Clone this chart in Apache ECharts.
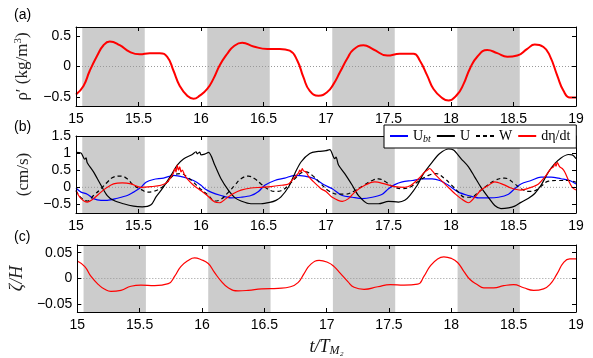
<!DOCTYPE html>
<html><head><meta charset="utf-8">
<script src="https://cdn.jsdelivr.net/npm/echarts@6/dist/echarts.min.js"></script>
<style>html,body{margin:0;padding:0;background:#fff}#c{width:593px;height:358px}</style>
</head><body><div id="c"></div>
<script>
// ---------- data ----------
var bands = [[15.05,15.55],[16.05,16.55],[17.05,17.55],[18.05,18.55]];
var xTicks = [15,15.5,16,16.5,17,17.5,18,18.5,19];
var yTicksA = [-0.5,0,0.5];
var yTicksB = [-0.5,0,0.5,1,1.5];
var yTicksC = [-0.05,0,0.05];

// (a) density anomaly
var rhoT = [15.0,15.06,15.11,15.17,15.22,15.27,15.35,15.43,15.51,15.59,15.67,15.73,15.78,15.83,15.89,15.94,15.99,16.05,16.10,16.15,16.21,16.26,16.33,16.42,16.53,16.63,16.71,16.77,16.82,16.87,16.94,17.01,17.06,17.11,17.17,17.22,17.30,17.38,17.49,17.59,17.70,17.75,17.81,17.86,17.93,17.98,18.05,18.10,18.15,18.21,18.29,18.37,18.45,18.53,18.61,18.67,18.74,18.79,18.85,18.90,18.95,19.0];
var rhoV = [-0.46,-0.32,-0.07,0.18,0.35,0.41,0.35,0.24,0.2,0.22,0.22,0.16,-0.07,-0.32,-0.48,-0.53,-0.48,-0.37,-0.2,0.02,0.21,0.33,0.39,0.33,0.29,0.29,0.26,0.1,-0.18,-0.4,-0.48,-0.42,-0.29,-0.1,0.13,0.28,0.35,0.28,0.18,0.21,0.21,0.1,-0.15,-0.37,-0.52,-0.56,-0.46,-0.29,-0.04,0.16,0.27,0.22,0.16,0.18,0.29,0.36,0.32,0.18,-0.15,-0.4,-0.51,-0.51];

// (b) velocities
var ubtT = [15.0,15.04,15.09,15.14,15.2,15.25,15.33,15.41,15.46,15.52,15.56,15.62,15.70,15.78,15.86,15.94,16.0,16.03,16.08,16.16,16.24,16.32,16.40,16.46,16.51,16.59,16.67,16.75,16.83,16.91,16.98,17.05,17.13,17.21,17.29,17.37,17.45,17.5,17.55,17.61,17.69,17.77,17.85,17.91,17.98,18.06,18.14,18.22,18.30,18.38,18.46,18.51,18.56,18.64,18.72,18.80,18.88,18.95,19.0];
var ubtV = [-0.02,-0.14,-0.2,-0.33,-0.38,-0.38,-0.32,-0.24,-0.14,0.0,0.15,0.23,0.27,0.35,0.3,0.2,0.06,-0.04,-0.14,-0.24,-0.31,-0.29,-0.24,-0.12,0.06,0.2,0.27,0.35,0.33,0.25,0.08,-0.04,-0.24,-0.29,-0.33,-0.29,-0.2,-0.04,0.08,0.16,0.2,0.25,0.25,0.2,0.06,-0.14,-0.24,-0.31,-0.31,-0.29,-0.2,-0.04,0.1,0.2,0.3,0.3,0.25,0.2,0.1];

var uT = [15.0,15.04,15.07,15.08,15.09,15.14,15.2,15.25,15.3,15.38,15.46,15.53,15.6,15.64,15.69,15.76,15.81,15.86,15.93,15.96,15.97,15.99,16.0,16.03,16.06,16.11,16.16,16.22,16.27,16.32,16.40,16.48,16.55,16.60,16.64,16.70,16.75,16.80,16.87,16.94,17.0,17.03,17.07,17.08,17.1,17.15,17.21,17.26,17.34,17.42,17.50,17.58,17.63,17.67,17.73,17.78,17.85,17.91,17.98,18.02,18.08,18.14,18.19,18.24,18.30,18.35,18.40,18.46,18.51,18.56,18.62,18.67,18.72,18.78,18.83,18.88,18.94,18.97,19.0];
var uV = [1.02,1.0,0.82,0.86,0.72,0.45,0.06,-0.24,-0.38,-0.48,-0.55,-0.57,-0.51,-0.28,-0.04,0.35,0.65,0.83,0.96,1.04,0.98,1.03,0.95,0.97,1.02,0.65,0.25,-0.09,-0.3,-0.4,-0.48,-0.48,-0.44,-0.38,-0.28,0.01,0.4,0.74,0.99,1.05,1.07,1.1,0.84,0.88,0.65,0.4,0.06,-0.24,-0.48,-0.48,-0.41,-0.43,-0.38,-0.24,0.06,0.4,0.74,0.99,1.12,1.09,0.84,0.6,0.3,0.0,-0.3,-0.53,-0.62,-0.6,-0.55,-0.44,-0.32,-0.18,0.06,0.45,0.69,0.86,0.96,0.95,0.84];

var wT = [15.0,15.04,15.09,15.14,15.2,15.25,15.3,15.36,15.41,15.46,15.52,15.57,15.62,15.68,15.73,15.78,15.84,15.89,15.94,15.98,16.06,16.11,16.16,16.22,16.27,16.32,16.38,16.43,16.48,16.53,16.59,16.64,16.70,16.75,16.80,16.84,16.89,16.96,17.02,17.1,17.15,17.23,17.31,17.37,17.42,17.47,17.53,17.61,17.67,17.74,17.82,17.88,17.95,18.0,18.06,18.11,18.16,18.22,18.27,18.35,18.43,18.51,18.56,18.62,18.67,18.72,18.78,18.86,18.94,19.0];
var wV = [-0.09,-0.3,-0.4,-0.24,-0.04,0.15,0.3,0.33,0.25,0.06,-0.06,-0.14,-0.12,-0.02,0.15,0.35,0.4,0.3,0.15,0.0,-0.24,-0.4,-0.35,-0.14,0.06,0.25,0.33,0.25,0.1,-0.04,-0.12,-0.1,0.06,0.25,0.42,0.45,0.35,0.1,-0.1,-0.2,-0.2,-0.1,0.08,0.2,0.25,0.18,0.03,-0.04,0.0,0.18,0.35,0.4,0.25,0.08,-0.14,-0.29,-0.29,-0.14,0.0,0.2,0.27,0.1,-0.04,-0.12,-0.1,0.03,0.18,0.2,0.2,0.15];

var detaT = [15.0,15.04,15.09,15.14,15.2,15.25,15.3,15.37,15.44,15.52,15.6,15.68,15.73,15.76,15.78,15.79,15.80,15.81,15.82,15.83,15.84,15.85,15.87,15.89,15.94,16.0,16.05,16.11,16.15,16.2,16.26,16.32,16.40,16.48,16.56,16.64,16.70,16.75,16.78,16.79,16.80,16.81,16.82,16.84,16.86,16.89,16.96,17.0,17.05,17.13,17.18,17.23,17.31,17.39,17.47,17.55,17.63,17.68,17.74,17.79,17.81,17.83,17.85,17.88,17.95,17.99,18.03,18.08,18.14,18.19,18.24,18.30,18.35,18.42,18.48,18.56,18.64,18.70,18.75,18.78,18.80,18.82,18.83,18.84,18.85,18.87,18.89,18.91,18.94,18.97,19.0];
var detaV = [-0.1,-0.33,-0.43,-0.33,-0.14,0.0,0.1,0.13,0.1,0.0,0.02,0.06,0.15,0.3,0.42,0.55,0.45,0.65,0.5,0.6,0.45,0.5,0.35,0.25,0.06,-0.1,-0.24,-0.43,-0.45,-0.33,-0.18,-0.08,-0.02,0.0,0.02,0.06,0.1,0.3,0.42,0.5,0.45,0.55,0.48,0.45,0.32,0.2,-0.04,-0.12,-0.29,-0.41,-0.33,-0.14,0.06,0.16,0.1,0.02,0.0,0.06,0.25,0.45,0.5,0.55,0.48,0.35,0.1,-0.04,-0.18,-0.33,-0.45,-0.29,-0.08,0.06,0.16,0.08,-0.02,-0.08,0.0,0.1,0.3,0.45,0.55,0.6,0.7,0.62,0.72,0.6,0.55,0.45,0.2,0.0,-0.08];

// (c) zeta/H
var zetaT = [15.0,15.06,15.11,15.17,15.22,15.27,15.35,15.43,15.51,15.62,15.73,15.78,15.83,15.89,15.94,15.99,16.05,16.10,16.15,16.21,16.29,16.37,16.48,16.61,16.71,16.77,16.82,16.87,16.94,17.01,17.06,17.11,17.17,17.22,17.30,17.41,17.51,17.62,17.73,17.78,17.83,17.89,17.94,18.0,18.05,18.10,18.15,18.21,18.26,18.34,18.42,18.50,18.58,18.66,18.74,18.79,18.85,18.90,18.95,19.0];
var zetaV = [0.034,0.023,0.004,-0.012,-0.021,-0.025,-0.023,-0.015,-0.013,-0.014,-0.01,0.004,0.023,0.035,0.04,0.037,0.029,0.012,-0.004,-0.018,-0.024,-0.023,-0.02,-0.019,-0.016,-0.008,0.01,0.027,0.035,0.031,0.023,0.01,-0.006,-0.017,-0.021,-0.016,-0.012,-0.013,-0.011,0.004,0.024,0.038,0.042,0.039,0.031,0.014,-0.002,-0.012,-0.018,-0.018,-0.014,-0.012,-0.018,-0.023,-0.02,-0.012,0.01,0.031,0.038,0.038];

// ---------- helpers ----------
function zip(t, v){ return t.map(function(x,i){ return [x, v[i]]; }); }
function minusFmt(v){ return String(v).replace('-', '\u2212'); }
var LBL = {fontFamily:'Liberation Sans', fontSize:14, color:'#000'};
var SERIF = 'Liberation Serif';
var grids = [
  {left:76, width:500, top:27, height:79},
  {left:76, width:500, top:136, height:77},
  {left:76, width:500, top:245, height:79}
];
var yRanges = [[-0.65,0.65,yTicksA],[-0.75,1.5,yTicksB],[-0.065,0.065,yTicksC]];
var yNames = [
  {name:'{n|\u03C1\u2032 (kg/m}{p|3}{n|)}', style:{rich:{
      n:{fontFamily:SERIF, fontSize:17, color:'#222'},
      p:{fontFamily:SERIF, fontSize:11, color:'#222', verticalAlign:'top', padding:[0,0,8,0]}}}},
  {name:'(cm/s)', style:{fontFamily:SERIF, fontSize:17, color:'#222'}},
  {name:'\u03B6/H', style:{fontFamily:SERIF, fontSize:18, fontStyle:'italic', color:'#222'}}
];
var xAxes = [], yAxes = [], series = [];
grids.forEach(function(g, i){
  var isLast = (i === 2);
  xAxes.push({type:'value', gridIndex:i, min:15, max:19, interval:0.5, position:'bottom', z:5,
    axisLine:{onZero:false, lineStyle:{color:'#000', width:1}},
    axisTick:{inside:true, length:4, lineStyle:{color:'#000'}},
    axisLabel:Object.assign({margin:6}, LBL),
    splitLine:{show:false},
    name: isLast ? '{i|t/T}{s|M\u2082}' : '',
    nameLocation:'middle', nameGap:25,
    nameTextStyle:{rich:{
      i:{fontFamily:SERIF, fontStyle:'italic', fontSize:18, color:'#111'},
      s:{fontFamily:SERIF, fontStyle:'italic', fontSize:12, color:'#111', verticalAlign:'bottom', padding:[8,0,0,0]}
    }}
  });
  xAxes.push({type:'value', gridIndex:i, min:15, max:19, interval:0.5, position:'top', z:5,
    axisLine:{onZero:false, lineStyle:{color:'#000', width:1}},
    axisTick:{inside:true, length:4, lineStyle:{color:'#000'}},
    axisLabel:{show:false}, splitLine:{show:false}
  });
  var yr = yRanges[i];
  yAxes.push({type:'value', gridIndex:i, min:yr[0], max:yr[1], position:'left', z:5,
    axisLine:{onZero:false, show:true, lineStyle:{color:'#000', width:1}},
    axisTick:{show:true, inside:true, length:4, customValues:yr[2], lineStyle:{color:'#000'}},
    axisLabel:Object.assign({margin:5, customValues:yr[2], formatter:minusFmt}, LBL),
    splitLine:{show:false},
    name:yNames[i].name, nameLocation:'middle', nameGap:44, nameTextStyle:yNames[i].style
  });
  yAxes.push({type:'value', gridIndex:i, min:yr[0], max:yr[1], position:'right', z:5,
    axisLine:{onZero:false, show:true, lineStyle:{color:'#000', width:1}},
    axisTick:{show:true, inside:true, length:4, customValues:yr[2], lineStyle:{color:'#000'}},
    axisLabel:{show:false}, splitLine:{show:false}
  });
  // gray bands
  series.push({type:'line', xAxisIndex:2*i, yAxisIndex:2*i, data:[[15,0]], symbol:'none', z:1,
    lineStyle:{opacity:0}, silent:true, legendHoverLink:false,
    markArea:{silent:true, itemStyle:{color:'#cccccc'},
      data:bands.map(function(b){ return [{xAxis:b[0]},{xAxis:b[1]}]; })}
  });
  // zero dotted line
  series.push({type:'line', xAxisIndex:2*i, yAxisIndex:2*i, data:[[15,0],[19,0]], symbol:'none', z:2,
    silent:true, lineStyle:{color:'#999', width:1, type:[1,2]}});
});

series.push({name:'rho', type:'line', xAxisIndex:0, yAxisIndex:0, data:zip(rhoT,rhoV), symbol:'none', smooth:0.5, z:3,
  lineStyle:{color:'#ff0000', width:2}});
series.push({name:'Ubt', type:'line', xAxisIndex:2, yAxisIndex:2, data:zip(ubtT,ubtV), symbol:'none', smooth:0.3, z:3,
  itemStyle:{color:'#0000ff'}, lineStyle:{color:'#0000ff', width:1.2}});
series.push({name:'U', type:'line', xAxisIndex:2, yAxisIndex:2, data:zip(uT,uV), symbol:'none', smooth:0.3, z:3,
  itemStyle:{color:'#000'}, lineStyle:{color:'#000', width:1.2}});
series.push({name:'W', type:'line', xAxisIndex:2, yAxisIndex:2, data:zip(wT,wV), symbol:'none', smooth:0.4, z:3,
  itemStyle:{color:'#000'}, lineStyle:{color:'#000', width:1.2, type:[4,3]}});
series.push({name:'deta', type:'line', xAxisIndex:2, yAxisIndex:2, data:zip(detaT,detaV), symbol:'none', smooth:0.3, z:3,
  itemStyle:{color:'#ff0000'}, lineStyle:{color:'#ff0000', width:1.2}});
series.push({name:'zeta', type:'line', xAxisIndex:4, yAxisIndex:4, data:zip(zetaT,zetaV), symbol:'none', smooth:0.5, z:3,
  lineStyle:{color:'#ff0000', width:1.2}});

var legendNames = {Ubt:'{n|U}{s|bt}', U:'{n|U}', W:'{n|W}', deta:'{n|d\u03B7/dt}'};
var option = {
  animation:false,
  backgroundColor:'#fff',
  grid:grids,
  xAxis:xAxes,
  yAxis:yAxes,
  legend:{data:['Ubt','U','W','deta'], left:384, top:125, orient:'horizontal',
    itemWidth:18, itemHeight:10, itemGap:5, padding:[4,6,4,5],
    backgroundColor:'#fff', borderColor:'#000', borderWidth:1, z:10,
    itemStyle:{opacity:0, borderWidth:0},
    formatter:function(n){ return legendNames[n]; },
    textStyle:{color:'#000', rich:{
      n:{fontFamily:SERIF, fontSize:14, color:'#000'},
      s:{fontFamily:SERIF, fontStyle:'italic', fontSize:10, color:'#000', verticalAlign:'bottom', padding:[6,0,0,0]}
    }}
  },
  graphic:[
    {type:'text', left:14, top:8, style:{text:'(a)', font:'14px "Liberation Sans"', fill:'#000'}},
    {type:'text', left:14, top:120, style:{text:'(b)', font:'14px "Liberation Sans"', fill:'#000'}},
    {type:'text', left:14, top:230, style:{text:'(c)', font:'14px "Liberation Sans"', fill:'#000'}}
  ],
  series:series
};
var chart = echarts.init(document.getElementById('c'), null, {renderer:'canvas'});
chart.setOption(option);
</script>
</body></html>
